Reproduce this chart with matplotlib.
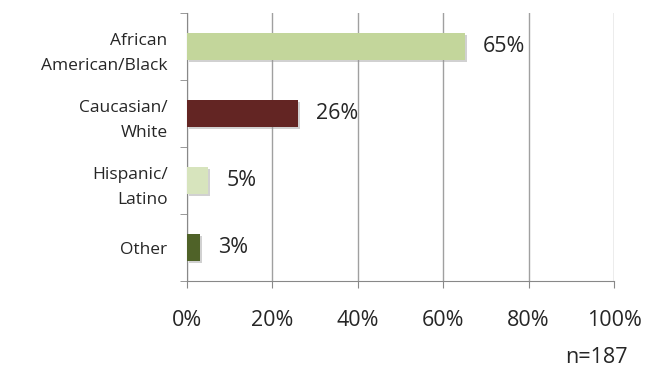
import matplotlib.pyplot as plt
import matplotlib.patheffects as pe
import numpy as np

categories = ['African\nAmerican/Black', 'Caucasian/\nWhite', 'Hispanic/\nLatino', 'Other']
values = [65, 26, 5, 3]
colors = ['#C3D69B', '#632523', '#D7E4BD', '#4F6228']
xticks = [0, 20, 40, 60, 80, 100]

plt.rcParams['font.family'] = ['Open Sans', 'DejaVu Sans']

fig = plt.figure(figsize=(6.5, 3.84), dpi=100)
ax = fig.add_axes([0.2877, 0.268, 0.657, 0.698])

y = np.arange(len(categories))
bars = ax.barh(y, values, height=0.4, color=colors, zorder=3)
for b in bars:
    b.set_path_effects([pe.SimplePatchShadow(offset=(1.5, -1.5), shadow_rgbFace='#999999', alpha=0.45), pe.Normal()])

for yi, v in zip(y, values):
    ax.text(v + 4.2, yi, f'{v}%', va='center', ha='left', fontsize=15.5, color='#262626')

ax.set_xlim(0, 100)
ax.set_ylim(len(categories) - 0.5, -0.5)
ax.set_xticks(xticks)
ax.set_xticklabels([f'{t}%' for t in xticks], fontsize=15.5, color='#262626')
ax.set_yticks(y)
ax.set_yticklabels(categories, fontsize=12.5, color='#262626', linespacing=1.75)
ax.set_yticks(np.arange(-0.5, len(categories), 1), minor=True)
ax.tick_params(axis='y', which='major', length=0, pad=14)
ax.tick_params(axis='y', which='minor', length=5, color='#888888')
ax.tick_params(axis='x', length=5, color='#888888', pad=16)
ax.grid(axis='x', color='#A0A0A0', linewidth=1, zorder=0)
for s in ['top', 'right']:
    ax.spines[s].set_visible(False)
for s in ['left', 'bottom']:
    ax.spines[s].set_color('#888888')

fig.text(0.918, 0.068, 'n=187', ha='center', va='center', fontsize=15.5, color='#262626')

fig.savefig('out.png', dpi=100)
